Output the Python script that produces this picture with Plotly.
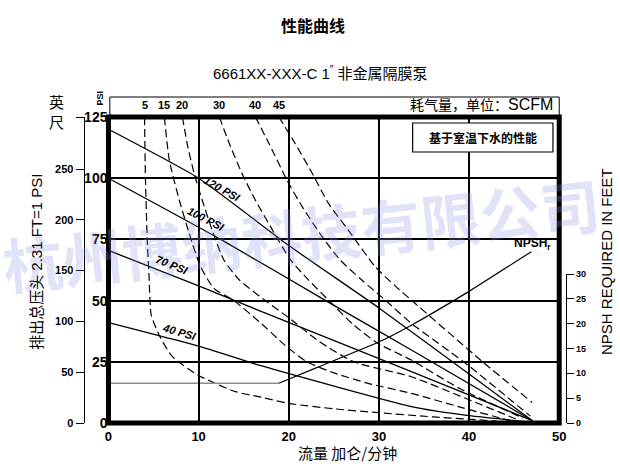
import plotly.graph_objects as go

# ---------------- data ----------------
flow_ticks = [0, 10, 20, 30, 40, 50]
psi_ticks = [0, 25, 50, 75, 100, 125]
feet_ticks = [0, 50, 100, 150, 200, 250]
npsh_ticks = [0, 5, 10, 15, 20, 25, 30]

# discharge pressure lines (flow gpm, head psi)
p120_x = [0, 10, 20, 30, 40, 47]
p120_y = [120, 100, 72.5, 47, 20, 1]
p100_x = [0, 12.45, 24, 33.6, 47]
p100_y = [100, 75, 50.2, 29.8, 1]
p70_x = [0, 10, 17, 33.6, 47]
p70_y = [70.5, 56, 45.5, 21, 1]
p40_x = [0, 10, 17, 33.6, 40, 46.5]
p40_y = [41, 31.4, 23.3, 6.7, 3, 0.5]
pressure_names = ["120 PSI", "100 PSI", "70 PSI", "40 PSI"]

# air consumption curves (SCFM)
scfm_labels = [5, 15, 20, 30, 40, 45]
a5_x = [4.0, 4.1, 4.3, 4.5, 4.75, 5.8, 7.1, 9.9, 14.1, 17, 20, 25, 30, 36, 43]
a5_y = [125, 100, 75, 60, 44, 34.6, 27.1, 19.6, 12.8, 10.5, 8, 5.8, 4.2, 2.5, 0.8]
a15_x = [6.2, 6.75, 7.86, 8.96, 10.2, 11.7, 13.9, 17, 19.5, 22, 25, 28.8, 33.6, 39, 44.5]
a15_y = [125, 107.4, 91, 77.4, 64, 55, 50, 40.5, 32, 25, 20.5, 16.2, 12.1, 6.5, 1]
a20_x = [8.2, 8.8, 9.5, 10.4, 11.5, 12.8, 14.5, 17.4, 20, 23.3, 27.2, 33.6, 39, 45.5]
a20_y = [125, 112.8, 102, 91, 78.8, 66.6, 58.5, 50, 43, 33.5, 25, 18.9, 11, 1.2]
a30_x = [12.3, 13.4, 14.8, 16.3, 18.2, 20.2, 22.2, 24.4, 27, 29.9, 33.6, 39, 46]
a30_y = [125, 114.2, 102, 91, 78.8, 66.6, 58.4, 50.2, 40.7, 32.5, 25.7, 14, 2]
a40_x = [16.3, 17.8, 19.8, 21.5, 23.7, 25.7, 28.1, 30.7, 33.6, 39.4, 46.8]
a40_y = [125, 114.2, 99.2, 88.3, 76.1, 66.6, 58.4, 50.2, 40.7, 25, 2.8]
a45_x = [18.9, 20.7, 22.6, 24.4, 26.6, 29.6, 31.8, 33.6, 41.5, 47]
a45_y = [125, 114.2, 102, 89.7, 78.8, 63.8, 56, 50.2, 25, 8.4]

# NPSH required (feet)
npsh_flat_x = [0, 18.9]
npsh_flat_ft = [8, 8]
npsh_x = [18.9, 23.3, 30.1, 33.6, 39.9, 46.9]
npsh_ft = [8, 11.3, 16.4, 19.7, 26.4, 34.5]

# ---------------- styling helpers ----------------
W, H = 620, 470
ML, MR, MT, MB = 0, 0, 117, 47
PH = H - MT - MB  # 306
X0_PX, X50_PX = 105, 558
KX = 1.013  # horizontal compensation


def px_x(px):
    return px * KX / W


def px_y(py):
    return (H - MB - py) / PH


CJK = "Noto Sans CJK SC"
LAT = "Liberation Sans"
NAR = "Liberation Sans Narrow, Liberation Sans"

fig = go.Figure()

dash = "8px,4px"
air = [(a5_x, a5_y), (a15_x, a15_y), (a20_x, a20_y), (a30_x, a30_y), (a40_x, a40_y), (a45_x, a45_y)]
for xs, ys in air:
    fig.add_trace(go.Scatter(x=xs, y=ys, mode="lines", showlegend=False, hoverinfo="skip",
                             line=dict(color="black", width=1.2, dash=dash, shape="spline", smoothing=0.6)))

pressure = [(p120_x, p120_y), (p100_x, p100_y), (p70_x, p70_y), (p40_x, p40_y)]
for xs, ys in pressure:
    fig.add_trace(go.Scatter(x=xs, y=ys, mode="lines", showlegend=False, hoverinfo="skip",
                             line=dict(color="black", width=1.3, shape="spline", smoothing=0.5)))

# NPSH curve on hidden axis y4 scaled to match the right-hand axis y3
fig.add_trace(go.Scatter(x=npsh_flat_x, y=npsh_flat_ft, yaxis="y4", mode="lines", showlegend=False,
                         hoverinfo="skip", line=dict(color="#8c8c8c", width=1.6)))
fig.add_trace(go.Scatter(x=npsh_x, y=npsh_ft, yaxis="y4", mode="lines", showlegend=False,
                         hoverinfo="skip", line=dict(color="black", width=1.2, shape="spline", smoothing=0.5)))
# dummy traces to create feet axis and NPSH axis
fig.add_trace(go.Scatter(x=[None], y=[None], yaxis="y2", showlegend=False, hoverinfo="skip"))
fig.add_trace(go.Scatter(x=[None], y=[None], yaxis="y3", showlegend=False, hoverinfo="skip"))

npsh_top_frac = (423 - 274) / PH

fig.update_layout(
    width=W, height=H, autosize=False,
    margin=dict(l=ML, r=MR, t=MT, b=MB, pad=0),
    paper_bgcolor="white", plot_bgcolor="rgba(0,0,0,0)",
    showlegend=False,
    xaxis=dict(domain=[px_x(X0_PX), px_x(X50_PX)], range=[0, 50], tickvals=flow_ticks,
               ticktext=[str(v) for v in flow_ticks], showgrid=True, gridcolor="black", gridwidth=1.5,
               zeroline=False, showline=False, ticks="", anchor="y", ticklabelstandoff=4,
               tickfont=dict(family=NAR, size=13, color="black", weight="bold")),
    yaxis=dict(domain=[0, 1], range=[0, 125], tickvals=psi_ticks, showgrid=True, gridcolor="black",
               gridwidth=1.5, zeroline=False, showline=False, ticks="",
               tickfont=dict(family=NAR, size=14, color="black", weight="bold")),
    yaxis2=dict(overlaying="y", anchor="free", position=px_x(80), side="left",
                range=[0, 306 / 1.016], tickvals=feet_ticks + [306 / 1.016],
                ticktext=[str(v) for v in feet_ticks] + [" "], ticks="outside", ticklen=8,
                tickcolor="black", showline=True, linecolor="black", linewidth=1, showgrid=False,
                zeroline=False, tickfont=dict(family=NAR, size=11, color="black", weight="bold")),
    yaxis3=dict(anchor="free", position=px_x(565), side="right", domain=[0, npsh_top_frac],
                range=[0, 30], tickvals=npsh_ticks, ticks="outside", ticklen=7, tickcolor="black",
                showline=True, linecolor="black", linewidth=1, showgrid=False, zeroline=False,
                tickfont=dict(family=NAR, size=9, color="black", weight="bold")),
    yaxis4=dict(overlaying="y", range=[0, 30 / npsh_top_frac], visible=False),
)

shapes = [
    # thick frame
    dict(type="rect", xref="x domain", yref="y domain", x0=0, x1=1, y0=0, y1=1,
         line=dict(color="black", width=5), layer="above"),
    # SCFM strip on top
    dict(type="rect", xref="x domain", yref="paper", x0=0.003, x1=1, y0=1, y1=px_y(97),
         line=dict(color="black", width=1), layer="above"),
    # note box
    dict(type="rect", xref="paper", yref="paper", x0=px_x(410.7), x1=px_x(551.7),
         y0=px_y(152), y1=px_y(123), fillcolor="white", line=dict(color="black", width=1.2),
         layer="above"),
]
fig.update_layout(shapes=shapes)

ann = []


def A(text, x, y, size, family=CJK, xref="paper", yref="paper", angle=0, weight="normal",
      xanchor="center", yanchor="middle", color="black", style="normal"):
    ann.append(dict(text=text, x=x, y=y, xref=xref, yref=yref, showarrow=False, textangle=angle,
                    xanchor=xanchor, yanchor=yanchor,
                    font=dict(family=family, size=size, color=color, weight=weight, style=style)))


# watermark
A("杭州博纳科技有限公司", px_x(298), px_y(232), 60, family=CJK, weight="bold", angle=-6,
  color="rgba(135,145,228,0.26)")

A("性能曲线", px_x(311), px_y(25), 16, weight="bold")
A("6661XX-XXX-C 1<sup>″</sup> 非金属隔膜泵", px_x(318), px_y(72), 15, family=LAT + ", " + CJK)
A("英<br>尺", px_x(53), px_y(111), 15)
A("PSI", px_x(96), px_y(98), 9, family=NAR, angle=-90, weight="bold")
for lab, xs in zip(scfm_labels, [a5_x, a15_x, a20_x, a30_x, a40_x, a45_x]):
    A(str(lab), xs[0], px_y(105.5), 11, family=NAR, xref="x", weight="bold")
A("耗气量，单位：<span style='font-family:Liberation Sans;font-size:16px'>SCFM</span>",
  px_x(554), px_y(104), 14, xanchor="right")
A("基于室温下水的性能", px_x(481.5), px_y(137.5), 12, weight="bold")

# pressure labels
A(pressure_names[0], 12.6, 95.5, 11, family=NAR, xref="x", yref="y", angle=29, weight="bold", style="italic")
A(pressure_names[1], 10.8, 83.3, 11, family=NAR, xref="x", yref="y", angle=27, weight="bold", style="italic")
A(pressure_names[2], 7.1, 64.5, 11, family=NAR, xref="x", yref="y", angle=22, weight="bold", style="italic")
A(pressure_names[3], 7.9, 37.2, 11, family=NAR, xref="x", yref="y", angle=16, weight="bold", style="italic")

A("NPSH<sub>r</sub>", 49.3, 73, 12, family=NAR, xref="x", yref="y", weight="bold", xanchor="right")

A("流量 加仑/分钟", px_x(345), px_y(452), 15)
A("排出总压头 2.31 FT=1 PSI", px_x(32), px_y(262), 15, family=LAT + ", " + CJK, angle=-90)
A("NPSH REQUIRED IN FEET", px_x(605), px_y(261), 15, family=LAT, angle=-90)

fig.update_layout(annotations=ann)

fig.write_html(
    "out.html",
    config={"displayModeBar": False},
    post_script="document.body.style.margin='0';document.body.style.overflow='hidden';",
)
